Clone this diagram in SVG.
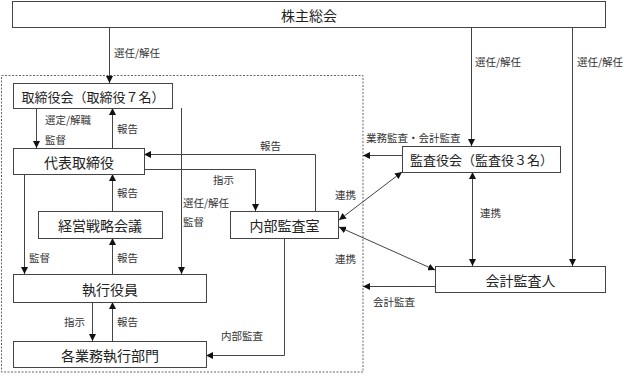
<svg xmlns="http://www.w3.org/2000/svg" width="624" height="382" viewBox="0 0 624 382">
<style>
.box{fill:#fff;stroke:#444;stroke-width:1}
.t{font-family:"Noto Sans CJK JP","Noto Sans CJK SC",sans-serif;font-size:14px;fill:#222;text-anchor:middle;dominant-baseline:central}
.tl{font-size:13px}
.s{font-family:"Noto Sans CJK JP","Noto Sans CJK SC",sans-serif;font-size:10.5px;fill:#333}
.c{fill:none;stroke:#444;stroke-width:1}
.dot{fill:none;stroke:#666;stroke-width:1;stroke-dasharray:2 1.5}
</style>
<defs>
<marker id="a" viewBox="0 0 10 10" refX="10" refY="5" markerWidth="7" markerHeight="7" markerUnits="userSpaceOnUse" orient="auto-start-reverse">
<path d="M0,0 L10,5 L0,10 z" fill="#111"/>
</marker>
</defs>
<rect class="dot" x="1.5" y="75.5" width="361.5" height="296.5"/>
<g id="connectors">
<path class="c" d="M109.5,27 V83" marker-end="url(#a)"/>
<path class="c" d="M471.5,27 V146" marker-end="url(#a)"/>
<path class="c" d="M572.5,27 V266" marker-end="url(#a)"/>
<path class="c" d="M36.5,108 V148" marker-end="url(#a)"/>
<path class="c" d="M112.5,148 V108" marker-end="url(#a)"/>
<path class="c" d="M181.5,108 V274" marker-end="url(#a)"/>
<path class="c" d="M24.5,174 V274" marker-end="url(#a)"/>
<path class="c" d="M112.5,211 V174" marker-end="url(#a)"/>
<path class="c" d="M112.5,274 V238" marker-end="url(#a)"/>
<path class="c" d="M92.5,302 V341" marker-end="url(#a)"/>
<path class="c" d="M112.5,341 V302" marker-end="url(#a)"/>
<path class="c" d="M144,169.5 H255.5 V211" marker-end="url(#a)"/>
<path class="c" d="M315.5,211 V154.5 H144" marker-end="url(#a)"/>
<path class="c" d="M284.5,238 V355.5 H206" marker-end="url(#a)"/>
<path class="c" d="M402,155.5 H363" marker-end="url(#a)"/>
<path class="c" d="M435,286.5 H363" marker-end="url(#a)"/>
<path class="c" d="M402,172 L339,220" marker-start="url(#a)" marker-end="url(#a)"/>
<path class="c" d="M339,227 L435,270" marker-start="url(#a)" marker-end="url(#a)"/>
<path class="c" d="M472.5,172 V266" marker-start="url(#a)" marker-end="url(#a)"/>
</g>
<g id="labels">
<text class="s" x="114" y="57">選任/解任</text>
<text class="s" x="475" y="66">選任/解任</text>
<text class="s" x="577" y="66">選任/解任</text>
<text class="s" x="45" y="124">選定/解職</text>
<text class="s" x="45" y="144">監督</text>
<text class="s" x="117" y="133">報告</text>
<text class="s" x="260" y="150">報告</text>
<text class="s" x="213" y="184">指示</text>
<text class="s" x="183" y="207">選任/解任</text>
<text class="s" x="183" y="226">監督</text>
<text class="s" x="117" y="197">報告</text>
<text class="s" x="29" y="262">監督</text>
<text class="s" x="117" y="262">報告</text>
<text class="s" x="64" y="326">指示</text>
<text class="s" x="117" y="326">報告</text>
<text class="s" x="221" y="340">内部監査</text>
<text class="s" x="366" y="142">業務監査・会計監査</text>
<text class="s" x="335" y="199">連携</text>
<text class="s" x="480" y="217">連携</text>
<text class="s" x="335" y="263">連携</text>
<text class="s" x="373" y="306">会計監査</text>
</g>
<g id="n-shareholders"><rect class="box" x="12.5" y="1.5" width="593" height="26"/><text class="t" x="309" y="15">株主総会</text></g>
<g id="n-board"><rect class="box" x="13.5" y="83.5" width="159" height="25"/><text class="t tl" x="93" y="96">取締役会（取締役７名）</text></g>
<g id="n-president"><rect class="box" x="13.5" y="148.5" width="131" height="26"/><text class="t" x="79" y="161.5">代表取締役</text></g>
<g id="n-strategy"><rect class="box" x="38.5" y="211.5" width="124" height="27"/><text class="t" x="100" y="225">経営戦略会議</text></g>
<g id="n-internal-audit"><rect class="box" x="230.5" y="211.5" width="108" height="27"/><text class="t" x="284.5" y="225">内部監査室</text></g>
<g id="n-officers"><rect class="box" x="13.5" y="274.5" width="193" height="28"/><text class="t" x="110" y="288.5">執行役員</text></g>
<g id="n-departments"><rect class="box" x="13.5" y="341.5" width="193" height="26"/><text class="t" x="110" y="354.5">各業務執行部門</text></g>
<g id="n-auditors"><rect class="box" x="402.5" y="146.5" width="158" height="26"/><text class="t tl" x="481.5" y="159.5">監査役会（監査役３名）</text></g>
<g id="n-accounting-auditor"><rect class="box" x="435.5" y="266.5" width="170" height="26"/><text class="t" x="520.5" y="279.5">会計監査人</text></g>
</svg>
